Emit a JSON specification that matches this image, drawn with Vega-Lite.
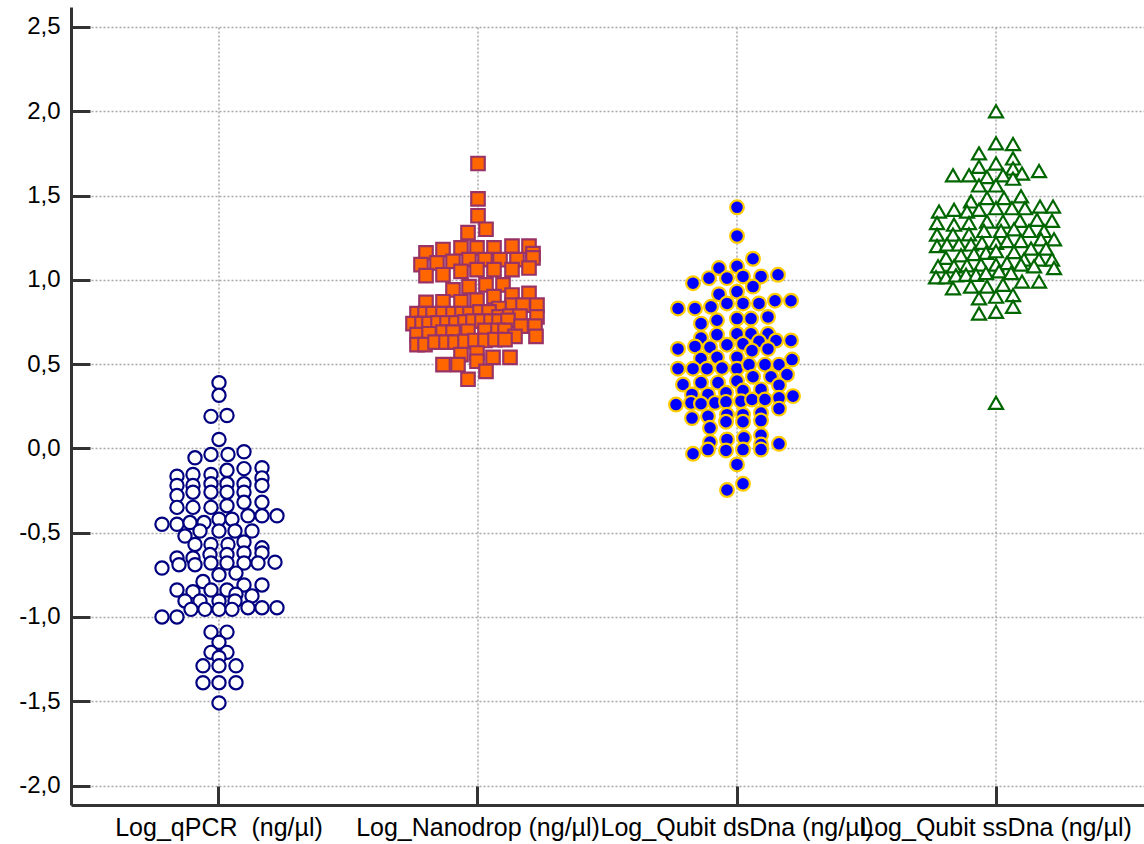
{
  "$schema": "https://vega.github.io/schema/vega-lite/v6.json",
  "autosize": "none",
  "width": 1073,
  "height": 798,
  "padding": {"left": 71, "top": 7, "right": 0, "bottom": 39},
  "background": "white",
  "config": {"view": {"stroke": null}, "font": "Liberation Sans"},
  "datasets": {
    "groups": [{"g": "q"}, {"g": "n"}, {"g": "d"}, {"g": "s"}],
    "pts": [
      {"g":"q","dx":0,"v":0.39},{"g":"q","dx":0,"v":0.315},{"g":"q","dx":-8,"v":0.19},{"g":"q","dx":8,"v":0.195},{"g":"q","dx":0,"v":0.053},
      {"g":"q","dx":-24,"v":-0.056},{"g":"q","dx":-8,"v":-0.036},{"g":"q","dx":9,"v":-0.036},{"g":"q","dx":25,"v":-0.02},
      {"g":"q","dx":25,"v":-0.12},{"g":"q","dx":43,"v":-0.115},
      {"g":"q","dx":-42,"v":-0.165},{"g":"q","dx":-26,"v":-0.155},{"g":"q","dx":-8,"v":-0.155},{"g":"q","dx":8,"v":-0.13},
      {"g":"q","dx":-42,"v":-0.22},{"g":"q","dx":-26,"v":-0.22},{"g":"q","dx":-8,"v":-0.21},{"g":"q","dx":8,"v":-0.21},{"g":"q","dx":25,"v":-0.21},{"g":"q","dx":43,"v":-0.175},{"g":"q","dx":43,"v":-0.22},
      {"g":"q","dx":-42,"v":-0.28},{"g":"q","dx":-26,"v":-0.26},{"g":"q","dx":-8,"v":-0.26},{"g":"q","dx":8,"v":-0.26},{"g":"q","dx":25,"v":-0.26},
      {"g":"q","dx":-42,"v":-0.35},{"g":"q","dx":-26,"v":-0.35},{"g":"q","dx":-8,"v":-0.35},{"g":"q","dx":8,"v":-0.34},{"g":"q","dx":25,"v":-0.32},{"g":"q","dx":43,"v":-0.32},
      {"g":"q","dx":29,"v":-0.40},{"g":"q","dx":43,"v":-0.40},{"g":"q","dx":58,"v":-0.40},
      {"g":"q","dx":-57,"v":-0.45},{"g":"q","dx":-42,"v":-0.45},{"g":"q","dx":-29,"v":-0.44},{"g":"q","dx":-15,"v":-0.44},{"g":"q","dx":0,"v":-0.42},{"g":"q","dx":13,"v":-0.42},
      {"g":"q","dx":-34,"v":-0.52},{"g":"q","dx":-19,"v":-0.49},{"g":"q","dx":0,"v":-0.49},{"g":"q","dx":16,"v":-0.49},{"g":"q","dx":33,"v":-0.49},
      {"g":"q","dx":-24,"v":-0.57},{"g":"q","dx":-8,"v":-0.57},{"g":"q","dx":9,"v":-0.57},{"g":"q","dx":25,"v":-0.555},{"g":"q","dx":43,"v":-0.59},
      {"g":"q","dx":-42,"v":-0.65},{"g":"q","dx":-26,"v":-0.65},{"g":"q","dx":-9,"v":-0.63},{"g":"q","dx":8,"v":-0.63},{"g":"q","dx":25,"v":-0.62},{"g":"q","dx":43,"v":-0.62},
      {"g":"q","dx":-57,"v":-0.71},{"g":"q","dx":-40,"v":-0.69},{"g":"q","dx":-24,"v":-0.69},{"g":"q","dx":-8,"v":-0.68},{"g":"q","dx":8,"v":-0.68},{"g":"q","dx":25,"v":-0.68},{"g":"q","dx":39,"v":-0.68},{"g":"q","dx":56,"v":-0.675},
      {"g":"q","dx":0,"v":-0.75},{"g":"q","dx":17,"v":-0.74},
      {"g":"q","dx":-16,"v":-0.79},{"g":"q","dx":25,"v":-0.81},{"g":"q","dx":43,"v":-0.81},
      {"g":"q","dx":-42,"v":-0.84},{"g":"q","dx":-26,"v":-0.85},{"g":"q","dx":-8,"v":-0.84},{"g":"q","dx":8,"v":-0.84},{"g":"q","dx":17,"v":-0.865},{"g":"q","dx":33,"v":-0.875},
      {"g":"q","dx":-34,"v":-0.905},{"g":"q","dx":-19,"v":-0.905},{"g":"q","dx":0,"v":-0.905},{"g":"q","dx":16,"v":-0.905},
      {"g":"q","dx":-57,"v":-1.0},{"g":"q","dx":-42,"v":-1.0},{"g":"q","dx":-28,"v":-0.955},{"g":"q","dx":-14,"v":-0.955},{"g":"q","dx":0,"v":-0.955},{"g":"q","dx":13,"v":-0.955},{"g":"q","dx":29,"v":-0.945},{"g":"q","dx":43,"v":-0.945},{"g":"q","dx":58,"v":-0.945},
      {"g":"q","dx":-8,"v":-1.09},{"g":"q","dx":8,"v":-1.09},{"g":"q","dx":0,"v":-1.15},{"g":"q","dx":-8,"v":-1.21},{"g":"q","dx":8,"v":-1.21},{"g":"q","dx":0,"v":-1.24},
      {"g":"q","dx":-16,"v":-1.29},{"g":"q","dx":0,"v":-1.29},{"g":"q","dx":17,"v":-1.29},{"g":"q","dx":-16,"v":-1.39},{"g":"q","dx":0,"v":-1.39},{"g":"q","dx":17,"v":-1.39},{"g":"q","dx":0,"v":-1.51},

      {"g":"n","dx":0,"v":1.69},{"g":"n","dx":0,"v":1.48},{"g":"n","dx":0,"v":1.38},{"g":"n","dx":-10,"v":1.28},{"g":"n","dx":8,"v":1.30},
      {"g":"n","dx":-52,"v":1.16},{"g":"n","dx":-35,"v":1.18},{"g":"n","dx":-17,"v":1.19},{"g":"n","dx":-1,"v":1.19},{"g":"n","dx":16,"v":1.19},{"g":"n","dx":34,"v":1.20},{"g":"n","dx":51,"v":1.20},{"g":"n","dx":55,"v":1.155},
      {"g":"n","dx":-57,"v":1.09},{"g":"n","dx":-41,"v":1.10},{"g":"n","dx":-25,"v":1.11},{"g":"n","dx":-9,"v":1.12},{"g":"n","dx":7,"v":1.12},{"g":"n","dx":22,"v":1.12},{"g":"n","dx":39,"v":1.12},{"g":"n","dx":55,"v":1.13},
      {"g":"n","dx":-52,"v":1.025},{"g":"n","dx":-35,"v":1.03},{"g":"n","dx":-17,"v":1.05},{"g":"n","dx":-1,"v":1.06},{"g":"n","dx":16,"v":1.06},{"g":"n","dx":34,"v":1.06},{"g":"n","dx":51,"v":1.07},
      {"g":"n","dx":-25,"v":0.94},{"g":"n","dx":-9,"v":0.96},{"g":"n","dx":8,"v":0.97},{"g":"n","dx":25,"v":0.97},
      {"g":"n","dx":16,"v":0.90},{"g":"n","dx":34,"v":0.91},{"g":"n","dx":51,"v":0.92},
      {"g":"n","dx":-52,"v":0.866},{"g":"n","dx":-35,"v":0.87},{"g":"n","dx":-17,"v":0.87},{"g":"n","dx":-1,"v":0.88},
      {"g":"n","dx":-61,"v":0.80},{"g":"n","dx":59,"v":0.85},{"g":"n","dx":34,"v":0.85},{"g":"n","dx":45,"v":0.85},{"g":"n","dx":21,"v":0.83},
      {"g":"n","dx":-53,"v":0.80},{"g":"n","dx":-45,"v":0.80},{"g":"n","dx":-35,"v":0.80},{"g":"n","dx":-25,"v":0.80},{"g":"n","dx":-16,"v":0.80},{"g":"n","dx":-8,"v":0.80},{"g":"n","dx":2,"v":0.81},{"g":"n","dx":11,"v":0.81},{"g":"n","dx":21,"v":0.78},{"g":"n","dx":32,"v":0.785},{"g":"n","dx":42,"v":0.785},{"g":"n","dx":59,"v":0.78},
      {"g":"n","dx":-65,"v":0.74},{"g":"n","dx":-56,"v":0.74},{"g":"n","dx":-49,"v":0.74},{"g":"n","dx":-40,"v":0.745},{"g":"n","dx":-31,"v":0.745},{"g":"n","dx":-22,"v":0.745},{"g":"n","dx":-13,"v":0.75},{"g":"n","dx":-5,"v":0.755},{"g":"n","dx":4,"v":0.755},{"g":"n","dx":13,"v":0.755},{"g":"n","dx":21,"v":0.755},{"g":"n","dx":30,"v":0.76},{"g":"n","dx":43,"v":0.725},{"g":"n","dx":57,"v":0.725},
      {"g":"n","dx":-61,"v":0.675},{"g":"n","dx":-49,"v":0.68},{"g":"n","dx":-35,"v":0.69},{"g":"n","dx":-25,"v":0.69},{"g":"n","dx":-10,"v":0.695},{"g":"n","dx":7,"v":0.70},{"g":"n","dx":20,"v":0.70},{"g":"n","dx":27,"v":0.70},{"g":"n","dx":37,"v":0.665},{"g":"n","dx":58,"v":0.665},
      {"g":"n","dx":-61,"v":0.615},{"g":"n","dx":-53,"v":0.615},{"g":"n","dx":-43,"v":0.63},{"g":"n","dx":-32,"v":0.63},{"g":"n","dx":-23,"v":0.63},{"g":"n","dx":-13,"v":0.635},{"g":"n","dx":-3,"v":0.64},{"g":"n","dx":7,"v":0.64},{"g":"n","dx":17,"v":0.645},{"g":"n","dx":27,"v":0.645},
      {"g":"n","dx":-17,"v":0.556},{"g":"n","dx":-1,"v":0.566},{"g":"n","dx":15,"v":0.54},{"g":"n","dx":32,"v":0.54},
      {"g":"n","dx":-35,"v":0.497},{"g":"n","dx":-20,"v":0.497},{"g":"n","dx":-1,"v":0.517},{"g":"n","dx":8,"v":0.457},{"g":"n","dx":-10,"v":0.41},

      {"g":"d","dx":0,"v":1.43},{"g":"d","dx":0,"v":1.26},{"g":"d","dx":16,"v":1.125},{"g":"d","dx":-18,"v":1.07},{"g":"d","dx":0,"v":1.08},
      {"g":"d","dx":-44,"v":0.98},{"g":"d","dx":-28,"v":1.01},{"g":"d","dx":-10,"v":1.01},{"g":"d","dx":6,"v":1.02},{"g":"d","dx":24,"v":1.02},{"g":"d","dx":41,"v":1.03},
      {"g":"d","dx":16,"v":0.96},{"g":"d","dx":0,"v":0.93},{"g":"d","dx":-18,"v":0.915},
      {"g":"d","dx":-59,"v":0.83},{"g":"d","dx":-42,"v":0.83},{"g":"d","dx":-26,"v":0.84},{"g":"d","dx":-10,"v":0.86},{"g":"d","dx":6,"v":0.86},{"g":"d","dx":22,"v":0.86},{"g":"d","dx":38,"v":0.876},{"g":"d","dx":54,"v":0.876},
      {"g":"d","dx":-36,"v":0.74},{"g":"d","dx":-20,"v":0.76},{"g":"d","dx":0,"v":0.77},{"g":"d","dx":14,"v":0.77},{"g":"d","dx":31,"v":0.78},
      {"g":"d","dx":-36,"v":0.655},{"g":"d","dx":-20,"v":0.675},{"g":"d","dx":0,"v":0.68},{"g":"d","dx":14,"v":0.68},{"g":"d","dx":31,"v":0.68},{"g":"d","dx":39,"v":0.64},{"g":"d","dx":54,"v":0.64},{"g":"d","dx":22,"v":0.635},
      {"g":"d","dx":-59,"v":0.59},{"g":"d","dx":-42,"v":0.605},{"g":"d","dx":-27,"v":0.60},{"g":"d","dx":-10,"v":0.615},{"g":"d","dx":6,"v":0.62},{"g":"d","dx":15,"v":0.58},{"g":"d","dx":31,"v":0.59},
      {"g":"d","dx":-36,"v":0.533},{"g":"d","dx":-20,"v":0.54},{"g":"d","dx":0,"v":0.54},{"g":"d","dx":55,"v":0.527},
      {"g":"d","dx":-59,"v":0.473},{"g":"d","dx":-44,"v":0.473},{"g":"d","dx":-30,"v":0.473},{"g":"d","dx":-15,"v":0.477},{"g":"d","dx":0,"v":0.473},{"g":"d","dx":12,"v":0.497},{"g":"d","dx":28,"v":0.497},{"g":"d","dx":42,"v":0.497},
      {"g":"d","dx":-54,"v":0.379},{"g":"d","dx":-36,"v":0.39},{"g":"d","dx":-19,"v":0.39},{"g":"d","dx":0,"v":0.40},{"g":"d","dx":16,"v":0.425},{"g":"d","dx":34,"v":0.425},{"g":"d","dx":50,"v":0.438},
      {"g":"d","dx":-45,"v":0.32},{"g":"d","dx":-29,"v":0.32},{"g":"d","dx":-11,"v":0.33},{"g":"d","dx":6,"v":0.343},{"g":"d","dx":24,"v":0.35},{"g":"d","dx":42,"v":0.375},
      {"g":"d","dx":-61,"v":0.26},{"g":"d","dx":-46,"v":0.27},{"g":"d","dx":-36,"v":0.265},{"g":"d","dx":-22,"v":0.27},{"g":"d","dx":-11,"v":0.276},{"g":"d","dx":4,"v":0.28},{"g":"d","dx":15,"v":0.29},{"g":"d","dx":28,"v":0.29},{"g":"d","dx":42,"v":0.30},{"g":"d","dx":56,"v":0.31},
      {"g":"d","dx":-45,"v":0.18},{"g":"d","dx":-29,"v":0.19},{"g":"d","dx":-10,"v":0.20},{"g":"d","dx":6,"v":0.20},{"g":"d","dx":24,"v":0.21},{"g":"d","dx":42,"v":0.236},
      {"g":"d","dx":-11,"v":0.158},{"g":"d","dx":6,"v":0.158},{"g":"d","dx":24,"v":0.165},{"g":"d","dx":-27,"v":0.122},
      {"g":"d","dx":-10,"v":0.053},{"g":"d","dx":7,"v":0.063},{"g":"d","dx":24,"v":0.078},
      {"g":"d","dx":-27,"v":0.037},{"g":"d","dx":24,"v":0.023},{"g":"d","dx":42,"v":0.027},
      {"g":"d","dx":-44,"v":-0.032},{"g":"d","dx":-29,"v":-0.007},{"g":"d","dx":-11,"v":-0.012},{"g":"d","dx":6,"v":-0.007},{"g":"d","dx":24,"v":-0.007},
      {"g":"d","dx":0,"v":-0.095},{"g":"d","dx":6,"v":-0.21},{"g":"d","dx":-10,"v":-0.247},

      {"g":"s","dx":0,"v":2.0},{"g":"s","dx":0,"v":1.81},{"g":"s","dx":17,"v":1.805},{"g":"s","dx":-17,"v":1.75},{"g":"s","dx":17,"v":1.72},{"g":"s","dx":0,"v":1.69},
      {"g":"s","dx":-43,"v":1.62},{"g":"s","dx":-27,"v":1.62},{"g":"s","dx":-17,"v":1.67},{"g":"s","dx":17,"v":1.66},{"g":"s","dx":26,"v":1.63},{"g":"s","dx":43,"v":1.645},
      {"g":"s","dx":-9,"v":1.61},{"g":"s","dx":7,"v":1.62},{"g":"s","dx":17,"v":1.60},
      {"g":"s","dx":-17,"v":1.56},{"g":"s","dx":0,"v":1.56},
      {"g":"s","dx":-25,"v":1.465},{"g":"s","dx":-9,"v":1.485},{"g":"s","dx":8,"v":1.485},{"g":"s","dx":25,"v":1.495},
      {"g":"s","dx":-57,"v":1.405},{"g":"s","dx":-42,"v":1.415},{"g":"s","dx":-29,"v":1.405},{"g":"s","dx":-17,"v":1.415},{"g":"s","dx":0,"v":1.425},{"g":"s","dx":16,"v":1.425},{"g":"s","dx":29,"v":1.425},{"g":"s","dx":44,"v":1.435},{"g":"s","dx":57,"v":1.435},
      {"g":"s","dx":-59,"v":1.337},{"g":"s","dx":-42,"v":1.327},{"g":"s","dx":-27,"v":1.337},{"g":"s","dx":-9,"v":1.346},{"g":"s","dx":7,"v":1.346},{"g":"s","dx":24,"v":1.35},{"g":"s","dx":41,"v":1.356},{"g":"s","dx":56,"v":1.35},
      {"g":"s","dx":-59,"v":1.268},{"g":"s","dx":-43,"v":1.268},{"g":"s","dx":-27,"v":1.27},{"g":"s","dx":-12,"v":1.29},{"g":"s","dx":5,"v":1.29},{"g":"s","dx":18,"v":1.30},{"g":"s","dx":33,"v":1.29},{"g":"s","dx":48,"v":1.29},{"g":"s","dx":58,"v":1.24},{"g":"s","dx":45,"v":1.24},
      {"g":"s","dx":-59,"v":1.20},{"g":"s","dx":-49,"v":1.21},{"g":"s","dx":-37,"v":1.21},{"g":"s","dx":-25,"v":1.21},{"g":"s","dx":-14,"v":1.22},{"g":"s","dx":0,"v":1.22},{"g":"s","dx":11,"v":1.23},{"g":"s","dx":25,"v":1.23},{"g":"s","dx":35,"v":1.185},{"g":"s","dx":50,"v":1.185},
      {"g":"s","dx":-50,"v":1.13},{"g":"s","dx":-35,"v":1.145},{"g":"s","dx":-22,"v":1.153},{"g":"s","dx":-10,"v":1.16},{"g":"s","dx":0,"v":1.17},{"g":"s","dx":18,"v":1.165},{"g":"s","dx":28,"v":1.12},{"g":"s","dx":43,"v":1.12},{"g":"s","dx":56,"v":1.12},
      {"g":"s","dx":-58,"v":1.08},{"g":"s","dx":-42,"v":1.08},{"g":"s","dx":-29,"v":1.086},{"g":"s","dx":-15,"v":1.09},{"g":"s","dx":0,"v":1.09},{"g":"s","dx":11,"v":1.10},{"g":"s","dx":25,"v":1.09},{"g":"s","dx":38,"v":1.08},{"g":"s","dx":58,"v":1.07},
      {"g":"s","dx":-60,"v":1.015},{"g":"s","dx":-50,"v":1.015},{"g":"s","dx":-40,"v":1.026},{"g":"s","dx":-30,"v":1.03},{"g":"s","dx":-20,"v":1.03},{"g":"s","dx":-10,"v":1.04},{"g":"s","dx":3,"v":1.05},{"g":"s","dx":15,"v":1.04},{"g":"s","dx":26,"v":0.99},{"g":"s","dx":43,"v":0.99},
      {"g":"s","dx":-43,"v":0.95},{"g":"s","dx":-25,"v":0.96},{"g":"s","dx":-9,"v":0.96},{"g":"s","dx":7,"v":0.97},
      {"g":"s","dx":-17,"v":0.89},{"g":"s","dx":0,"v":0.90},{"g":"s","dx":17,"v":0.91},{"g":"s","dx":17,"v":0.84},{"g":"s","dx":-17,"v":0.80},{"g":"s","dx":0,"v":0.81},{"g":"s","dx":0,"v":0.27}
    ]
  },
  "layer": [
    {
      "data": {"name": "groups"},
      "mark": {"type": "rule", "color": "#a8a8a8", "strokeWidth": 1.5, "strokeDash": [2, 2]},
      "encoding": {
        "x": {"field": "g", "type": "nominal", "bandPosition": 0.5},
        "y": {"datum": -2},
        "y2": {"datum": 2.5}
      }
    },
    {
      "data": {"name": "pts"},
      "mark": {"type": "point", "filled": true, "strokeWidth": 2.2, "opacity": 1},
      "encoding": {
        "x": {"field": "g", "type": "nominal"},
        "xOffset": {"field": "dx", "type": "quantitative", "scale": {"domain": [-129.5, 129.5]}},
        "y": {"field": "v", "type": "quantitative"},
        "shape": {"field": "g", "type": "nominal", "legend": null,
          "scale": {"domain": ["q", "n", "d", "s"], "range": ["circle", "square", "circle", "triangle-up"]}},
        "fill": {"field": "g", "type": "nominal", "legend": null,
          "scale": {"domain": ["q", "n", "d", "s"], "range": ["#ffffff", "#ff6600", "#0000ff", "#ffffff"]}},
        "stroke": {"field": "g", "type": "nominal", "legend": null,
          "scale": {"domain": ["q", "n", "d", "s"], "range": ["#000080", "#993366", "#ffcc00", "#006600"]}},
        "size": {"field": "g", "type": "nominal", "legend": null,
          "scale": {"domain": ["q", "n", "d", "s"], "range": [175, 196, 190, 360]}}
      }
    }
  ],
  "resolve": {"scale": {"xOffset": "independent"}},
  "encoding": {
    "x": {
      "field": "g", "type": "nominal", "sort": ["q", "n", "d", "s"],
      "scale": {"domain": ["q", "n", "d", "s"], "paddingInner": 0, "paddingOuter": 0.0714},
      "axis": {
        "title": null, "grid": false, "bandPosition": 0.5,
        "labelExpr": "datum.value == 'q' ? 'Log_qPCR \u00a0(ng/µl)' : datum.value == 'n' ? 'Log_Nanodrop (ng/µl)' : datum.value == 'd' ? 'Log_Qubit dsDna (ng/µl)' : 'Log_Qubit ssDna (ng/µl)'",
        "labelAngle": 0, "labelFontSize": 25, "labelColor": "#000000", "labelFont": "Liberation Sans",
        "labelLimit": 0, "labelOverlap": false, "labelPadding": 29,
        "tickSize": -19, "tickWidth": 3, "tickColor": "#333333",
        "domainWidth": 3, "domainColor": "#333333"
      }
    },
    "y": {
      "type": "quantitative",
      "scale": {"domain": [-2.1156, 2.6185], "nice": false, "zero": false},
      "axis": {
        "title": null,
        "values": [-2, -1.5, -1, -0.5, 0, 0.5, 1, 1.5, 2, 2.5],
        "labelExpr": "datum.value % 1 == 0 ? datum.value + ',0' : replace(datum.value + '', '.', ',')",
        "labelFontSize": 24, "labelColor": "#000000", "labelFont": "Liberation Sans", "labelPadding": 30,
        "tickSize": -19, "tickWidth": 3, "tickColor": "#333333",
        "domainWidth": 3, "domainColor": "#333333",
        "grid": true, "gridColor": "#a8a8a8", "gridDash": [2, 2], "gridWidth": 1.5
      }
    }
  }
}
